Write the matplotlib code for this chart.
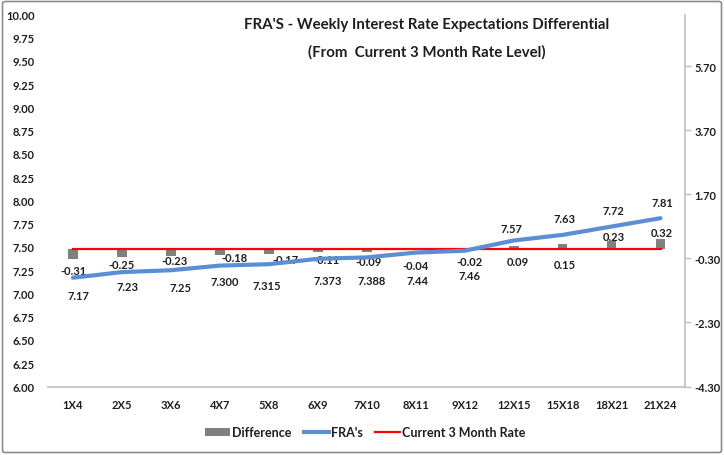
import matplotlib
matplotlib.use("Agg")
import matplotlib.pyplot as plt
from matplotlib.patches import FancyBboxPatch, Patch
from matplotlib.lines import Line2D
from matplotlib import font_manager
import numpy as np

categories = ["1X4", "2X5", "3X6", "4X7", "5X8", "6X9", "7X10", "8X11", "9X12",
              "12X15", "15X18", "18X21", "21X24"]
fra = [7.17, 7.23, 7.25, 7.300, 7.315, 7.373, 7.388, 7.44, 7.46, 7.57, 7.63, 7.72, 7.81]
fra_labels = ["7.17", "7.23", "7.25", "7.300", "7.315", "7.373", "7.388", "7.44",
              "7.46", "7.57", "7.63", "7.72", "7.81"]
difference = [-0.31, -0.25, -0.23, -0.18, -0.17, -0.11, -0.09, -0.04, -0.02,
              0.09, 0.15, 0.23, 0.32]
current_rate = [7.48] * len(categories)
left_ticks = [6.00 + 0.25 * k for k in range(17)]
right_ticks = [-4.30, -2.30, -0.30, 1.70, 3.70, 5.70]

# label offsets in pixels (dx right, dy down)
fra_off = [(5, 18), (6, 14), (9.5, 17), (5, 16), (-2, 21), (10, 22), (5, 23), (2, 28),
           (4.5, 25), (-2, -12), (1.5, -16), (2, -16), (1.5, -16)]
diff_off = [(1, 11.4), (-0.75, 7.3), (4, 3.9), (15, 2.5), (17, 4.9), (9, 6.8), (1.5, 9.4),
            (0, 15), (4.5, 11.7), (4, 15.2), (2.5, 20.1), (2, -5.3), (1.5, -6.4)]

FONT = ["Lato", "DejaVu Sans"]
plt.rcParams["font.family"] = FONT
plt.rcParams["font.weight"] = "bold"
available = {f.name for f in font_manager.fontManager.ttflist}
TITLE_FONT = ["Liberation Sans Narrow", "Lato"] if "Liberation Sans Narrow" in available else ["Lato"]
TITLE_SIZE = 14 if "Liberation Sans Narrow" in available else 10.8

TXT = "#1E1E1E"
GRID = "#BFBFBF"
BLUE = "#5A8FD6"
GREY = "#808080"
RED = "#FF0000"

fig = plt.figure(figsize=(7.24, 4.56), dpi=100)
W, H = 724, 456
x0, x1 = 48.5, 685
y_top, y_bot = 15.5, 387.5
ax = fig.add_axes([x0 / W, 1 - y_bot / H, (x1 - x0) / W, (y_bot - y_top) / H])
ax2 = ax.twinx()
ax2.set_zorder(ax.get_zorder() - 1)
ax.patch.set_visible(False)

x = np.arange(len(categories))

# bars (secondary axis)
ax2.bar(x, difference, width=0.2, color=GREY, zorder=2)
ax2.set_ylim(-4.30, 7.32)
ax2.set_yticks(right_ticks)
ax2.set_yticklabels([f"{t:.2f}" for t in right_ticks])
for s in ["top", "left", "bottom"]:
    ax2.spines[s].set_visible(False)
ax2.spines["right"].set_color(GRID)
ax2.spines["right"].set_linewidth(1.2)
ax2.tick_params(axis="y", colors=GRID, labelcolor=TXT, labelsize=8, length=4, width=1, pad=3)

# lines (primary axis)
ax.plot(x, current_rate, color=RED, lw=1.6, zorder=3)
ax.plot(x, fra, color=BLUE, lw=3.0, zorder=4, solid_capstyle="round")
ax.set_xlim(-0.5, len(categories) - 0.5)
ax.set_ylim(6.0, 10.0)
ax.set_yticks(left_ticks)
ax.set_yticklabels([f"{t:.2f}" for t in left_ticks])
ax.set_xticks(x)
ax.set_xticklabels(categories)
for s in ["top", "left", "right"]:
    ax.spines[s].set_visible(False)
ax.spines["bottom"].set_color(GRID)
ax.spines["bottom"].set_linewidth(1.2)
ax.tick_params(axis="y", length=0, labelsize=8, labelcolor=TXT, pad=10)
ax.tick_params(axis="x", length=0, labelsize=8, labelcolor=TXT, pad=9)

for i, (v, lab) in enumerate(zip(fra, fra_labels)):
    dx, dy = fra_off[i]
    ax.annotate(lab, (i, v), xytext=(dx, -dy), textcoords="offset pixels",
                ha="center", va="center", fontsize=8, color=TXT, fontweight="bold")
for i, v in enumerate(difference):
    dx, dy = diff_off[i]
    ax2.annotate(f"{v:.2f}", (i, v), xytext=(dx, -dy), textcoords="offset pixels",
                 ha="center", va="center", fontsize=8, color=TXT, fontweight="bold")

# title
fig.text(427 / W, 1 - 25 / H, "FRA'S - Weekly Interest Rate Expectations Differential",
         ha="center", va="center", fontsize=TITLE_SIZE, fontweight="bold", color=TXT,
         family=TITLE_FONT)
fig.text(427 / W, 1 - 52 / H, "(From  Current 3 Month Rate Level)",
         ha="center", va="center", fontsize=TITLE_SIZE, fontweight="bold", color=TXT,
         family=TITLE_FONT)

# legend
handles = [Patch(facecolor=GREY, edgecolor="none"),
           Line2D([], [], color=BLUE, lw=3.0),
           Line2D([], [], color=RED, lw=1.6)]
fig.legend(handles, ["Difference", "FRA's", "Current 3 Month Rate"],
           loc="center", bbox_to_anchor=(365 / W, 1 - 433 / H), ncol=3, frameon=False,
           fontsize=9, handlelength=2.0, handleheight=0.6, handletextpad=0.15,
           columnspacing=1.0, labelcolor=TXT)

# outer border
fig.patches.append(FancyBboxPatch((2.5 / W, 2.5 / H), 719 / W, 451 / H,
                                  boxstyle="round,pad=0,rounding_size=0.004",
                                  transform=fig.transFigure, fill=False,
                                  edgecolor="#8C8C8C", lw=1.2))

fig.savefig("out.png", dpi=100)
